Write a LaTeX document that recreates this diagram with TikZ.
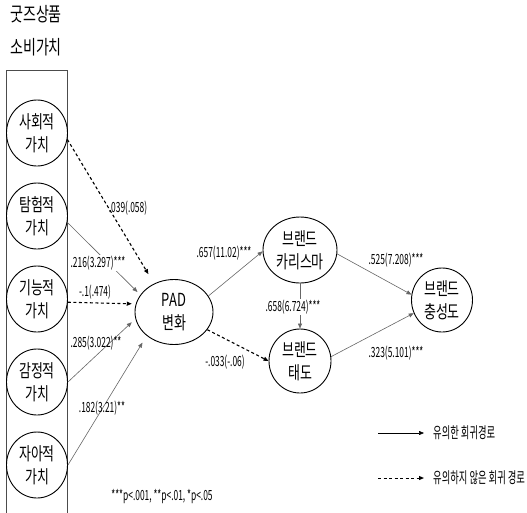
\documentclass[tikz,border=0pt]{standalone}
\usepackage{fontspec}
\setmainfont[FakeStretch=0.72]{Noto Sans CJK KR}
\newfontfamily\labfont[FakeStretch=0.6]{Noto Sans CJK KR}
\usepackage{tikz}
\usetikzlibrary{shapes.geometric}
\usetikzlibrary{arrows.meta}

\begin{document}
\begin{tikzpicture}[x=1pt, y=-1pt,
    >={Triangle[length=5pt, width=4pt]},
    var/.style={ellipse, draw=black, line width=0.9pt, align=center, inner sep=0pt,
                font=\fontsize{18}{23}\selectfont, text=black},
    sig/.style={->, draw=black!60, line width=0.6pt},
    nonsig/.style={->, draw=black, line width=1.1pt, dash pattern=on 3pt off 2.5pt},
    coef/.style={font=\labfont\fontsize{14}{16}\selectfont, text=black, inner sep=1pt},
    legtext/.style={coef, anchor=west, font=\labfont\fontsize{15.5}{18}\selectfont}]
      \useasboundingbox (0,0) rectangle (527,512);
      \node[align=center, font=\fontsize{19.5}{33}\selectfont, text=black] (title) at (36,31) {굿즈상품\\소비가치};
      \draw[black!70, line width=0.8pt] (6,513) -- (6,70) -- (67,70) -- (67,513);
      \node[var, minimum width=61pt, minimum height=66pt] (soc) at (37,133) {사회적\\가치};
      \node[var, minimum width=61pt, minimum height=66pt] (expl) at (37,216) {탐험적\\가치};
      \node[var, minimum width=61pt, minimum height=66pt] (func) at (37,299) {기능적\\가치};
      \node[var, minimum width=61pt, minimum height=66pt] (emo) at (37,382) {감정적\\가치};
      \node[var, minimum width=61pt, minimum height=66pt] (self) at (37,465) {자아적\\가치};
      \node[var, minimum width=78pt, minimum height=65pt] (pad) at (174,312) {PAD\\변화};
      \node[var, minimum width=74pt, minimum height=66pt] (charisma) at (300,250) {브랜드\\카리스마};
      \node[var, minimum width=62pt, minimum height=64pt] (attitude) at (300,361) {브랜드\\태도};
      \node[var, minimum width=61pt, minimum height=64pt] (loyalty) at (442,300) {브랜드\\충성도};
      % paths into PAD
      \draw[nonsig, shorten >=11pt] (soc.-12) -- (pad.125);
      \draw[sig, shorten >=4pt] (expl.-12) -- (pad.153);
      \draw[nonsig, shorten >=4pt] (func.-6) -- (pad.168);
      \draw[sig, shorten >=5pt] (emo.east) -- (pad.190);
      \draw[sig, shorten >=8pt] (self.east) -- (pad.221);
      % paths out of PAD
      \draw[sig] (pad.25) -- (charisma.182);
      \draw[nonsig] (pad.-28) -- (attitude.west);
      \draw[sig] (charisma.south) -- (attitude.north);
      \draw[sig] (charisma.-6) -- (loyalty.170);
      \draw[sig] (attitude.8) -- (loyalty.205);
      % coefficients
      \node[coef] (c1) at (128,208) {.039(.058)};
      \node[coef, fill=white] (c2) at (98,263) {.216(3.297)***};
      \node[coef] (c3) at (95,292) {-.1(.474)};
      \node[coef] (c4) at (96,343) {.285(3.022)**};
      \node[coef] (c5) at (102,408) {.182(3.21)**};
      \node[coef] (c6) at (224,253) {.657(11.02)***};
      \node[coef] (c7) at (225,362) {-.033(-.06)};
      \node[coef, fill=white] (c8) at (293,307) {.658(6.724)***};
      \node[coef] (c9) at (396,260) {.525(7.208)***};
      \node[coef] (c10) at (396,353) {.323(5.101)***};
      % legend
      \coordinate (l1a) at (378,433);
      \coordinate (l1b) at (424,433);
      \coordinate (l2a) at (378,478);
      \coordinate (l2b) at (424,478);
      \draw[->, black, line width=0.6pt] (l1a) -- (l1b);
      \draw[nonsig, line width=1pt] (l2a) -- (l2b);
      \node[legtext] (leg1) at (432,433) {유의한 회귀경로};
      \node[legtext] (leg2) at (432,478) {유의하지 않은 회귀 경로};
      \node[coef] (note) at (162,497) {***p<.001, **p<.01, *p<.05};
    \end{tikzpicture}
\end{document}
